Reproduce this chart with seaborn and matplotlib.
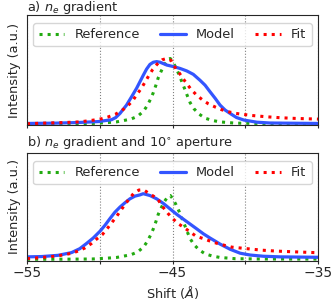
import numpy as np
import matplotlib
matplotlib.use("Agg")
import matplotlib.pyplot as plt
import seaborn as sns

# ---------------------------------------------------------
# DATA
# ---------------------------------------------------------
ref_x = [-55.0, -52.0, -50.5, -49.4, -48.85, -48.4, -47.86, -47.4, -47.0, -46.74,
         -46.5, -46.32, -46.14, -45.98, -45.79, -45.56, -45.29, -45.15, -44.99,
         -44.76, -44.53, -44.35, -44.16, -43.98, -43.79, -43.52, -43.17, -42.76,
         -42.26, -41.73, -40.7, -39.0, -35.0]
ref_y = [0.0, 0.002, 0.005, 0.02, 0.03, 0.05, 0.075, 0.12, 0.20, 0.29,
         0.40, 0.50, 0.62, 0.74, 0.84, 0.95, 1.04, 1.05, 1.00,
         0.90, 0.78, 0.67, 0.56, 0.45, 0.34, 0.24, 0.155, 0.09,
         0.053, 0.03, 0.01, 0.005, 0.003]

model_a_x = [-55.0, -53.0, -51.5, -50.1, -49.19, -48.9, -48.61, -48.16, -47.81,
             -47.47, -47.24, -47.01, -46.78, -46.55, -46.32, -46.09, -45.85,
             -45.60, -45.40, -44.94, -44.48, -44.02, -43.57, -43.11, -42.76,
             -42.42, -42.07, -41.73, -41.38, -41.04, -40.6, -40.1, -39.2,
             -38.3, -35.0]
model_a_y = [0.005, 0.01, 0.02, 0.035, 0.065, 0.10, 0.166, 0.30, 0.435,
             0.57, 0.675, 0.78, 0.88, 0.955, 0.99, 1.00, 0.99,
             0.965, 0.945, 0.92, 0.89, 0.85, 0.795, 0.70, 0.62,
             0.515, 0.41, 0.30, 0.22, 0.166, 0.10, 0.06, 0.025,
             0.012, 0.005]

fit_a_x = [-55.0, -53.9, -52.4, -51.37, -50.39, -49.88, -49.42, -48.91, -48.50,
           -48.11, -47.74, -47.45, -47.17, -46.90, -46.64, -46.37, -46.05,
           -45.70, -45.40, -45.10, -44.90, -44.60, -44.30, -44.02, -43.71,
           -43.34, -42.95, -42.53, -42.07, -41.61, -41.11, -40.63, -39.59,
           -38.58, -37.59, -36.56, -35.0]
fit_a_y = [0.0, 0.01, 0.02, 0.03, 0.06, 0.08, 0.11, 0.155, 0.21,
           0.28, 0.37, 0.47, 0.56, 0.665, 0.77, 0.87, 0.96,
           1.03, 1.05, 1.02, 0.93, 0.84, 0.735, 0.645, 0.55,
           0.46, 0.386, 0.32, 0.27, 0.225, 0.19, 0.166, 0.134,
           0.113, 0.097, 0.086, 0.075]

model_b_x = [-55.0, -54.0, -52.87, -51.94, -51.37, -50.91, -50.45, -49.99, -49.64,
             -49.30, -48.96, -48.61, -48.27, -47.93, -47.58, -47.24, -47.01,
             -46.55, -46.09, -45.63, -45.17, -44.71, -44.25, -43.79, -43.33,
             -42.88, -42.42, -42.0, -41.73, -41.04, -40.35, -39.66, -38.75,
             -37.59, -35.0]
model_b_y = [0.04, 0.045, 0.065, 0.11, 0.175, 0.26, 0.35, 0.46, 0.56,
             0.67, 0.775, 0.86, 0.93, 0.995, 1.04, 1.06, 1.08,
             1.05, 0.995, 0.92, 0.83, 0.74, 0.66, 0.58, 0.50,
             0.42, 0.35, 0.29, 0.25, 0.165, 0.10, 0.07, 0.05,
             0.04, 0.033]

fit_b_x = [-55.0, -53.94, -52.91, -51.90, -51.44, -51.03, -50.57, -50.18, -49.81,
           -49.47, -49.15, -48.89, -48.57, -48.27, -47.98, -47.65, -47.31,
           -47.0, -46.71, -46.25, -45.98, -45.74, -45.33, -44.99, -44.60,
           -44.19, -43.79, -43.38, -42.88, -42.42, -41.91, -41.43, -40.92,
           -39.89, -38.86, -37.87, -36.86, -35.0]
fit_b_y = [0.01, 0.03, 0.055, 0.10, 0.14, 0.185, 0.26, 0.34, 0.41,
           0.51, 0.61, 0.69, 0.80, 0.90, 0.995, 1.09, 1.14,
           1.145, 1.10, 1.03, 0.98, 0.885, 0.76, 0.67, 0.585,
           0.52, 0.45, 0.38, 0.34, 0.30, 0.26, 0.23, 0.20,
           0.175, 0.15, 0.135, 0.125, 0.108]

xtick_vals = [-55, -50, -45, -40, -35]
xtick_labels = ["\u221255", "", "\u221245", "", "\u221235"]
titles = ["a) $n_e$ gradient", "b) $n_e$ gradient and 10$^{\\circ}$ aperture"]

# ---------------------------------------------------------
# STYLE
# ---------------------------------------------------------
sns.set_style("ticks")
plt.rcParams["font.family"] = ["DejaVu Sans"]
FS = 9.3

C_REF = "#22aa11"
C_MOD = "#3355ff"
C_FIT = "#ff0000"

fig = plt.figure(figsize=(3.35, 3.0), dpi=100)
ax_a = fig.add_axes([27 / 335, 1 - 125 / 300, 291 / 335, 110 / 300])
ax_b = fig.add_axes([27 / 335, 1 - 260.5 / 300, 291 / 335, 107.5 / 300])

panels = [
    (ax_a, model_a_x, model_a_y, fit_a_x, fit_a_y),
    (ax_b, model_b_x, model_b_y, fit_b_x, fit_b_y),
]

for ax, mx, my, fx, fy in panels:
    sns.lineplot(x=ref_x, y=ref_y, ax=ax, color=C_REF, linestyle=":", lw=2.2,
                 label="Reference")
    sns.lineplot(x=mx, y=my, ax=ax, color=C_MOD, linestyle="-", lw=2.3,
                 label="Model")
    sns.lineplot(x=fx, y=fy, ax=ax, color=C_FIT, linestyle=":", lw=2.2,
                 label="Fit")
    ax.set_xlim(-55, -35)
    ax.set_ylim(-0.02, 1.75)
    ax.set_yticks([])
    ax.set_xticks(xtick_vals)
    ax.tick_params(axis="x", length=2.5, pad=1.5)
    ax.grid(axis="x", color="gray", linestyle=":", linewidth=0.8)
    ax.set_ylabel("Intensity (a.u.)", fontsize=FS, labelpad=4)
    ax.legend(loc="upper left", ncol=3, mode="expand",
              bbox_to_anchor=(0, 0, 1, 0.985), fontsize=FS,
              handlelength=2.0, frameon=True)

ax_a.set_xticklabels([])
ax_a.set_xlabel("")
ax_b.set_xticklabels(xtick_labels, fontsize=10)
ax_b.set_xlabel("Shift ($\\mathit{Å}$)", fontsize=FS, labelpad=3)

fig.text(27 / 335, 1 - 10.5 / 300, titles[0], fontsize=FS, va="baseline", ha="left")
fig.text(27 / 335, 1 - 146 / 300, titles[1], fontsize=FS, va="baseline", ha="left")

fig.savefig("out.png", dpi=100)
